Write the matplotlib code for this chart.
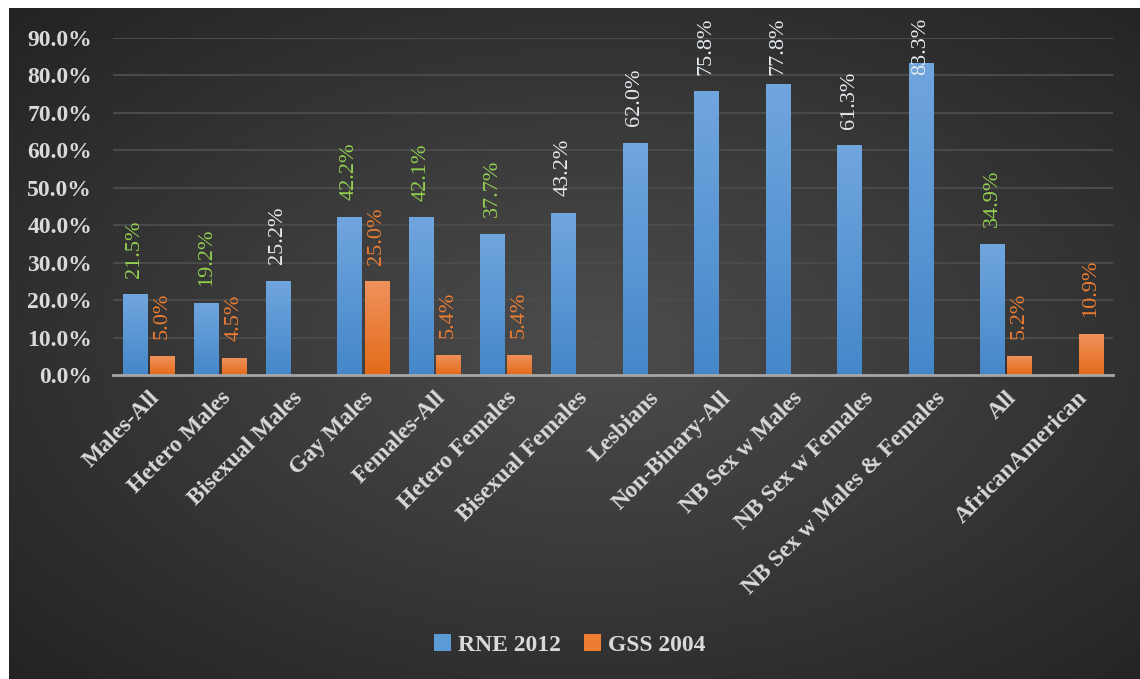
import numpy as np
import matplotlib
matplotlib.use("Agg")
import matplotlib.pyplot as plt
from matplotlib.patches import Patch

# values
categories = ["Males-All", "Hetero Males", "Bisexual Males", "Gay Males", "Females-All",
              "Hetero Females", "Bisexual Females", "Lesbians", "Non-Binary-All",
              "NB Sex w Males", "NB Sex w Females", "NB Sex w Males & Females", "All",
              "AfricanAmerican"]
rne_2012 = [21.5, 19.2, 25.2, 42.2, 42.1, 37.7, 43.2, 62.0, 75.8, 77.8, 61.3, 83.3, 34.9, np.nan]
gss_2004 = [5.0, 4.5, np.nan, 25.0, 5.4, 5.4, np.nan, np.nan, np.nan, np.nan, np.nan, np.nan, 5.2, 10.9]
rne_label_green = [True, True, False, True, True, True, False, False, False, False, False, False, True, False]

plt.rcParams["font.family"] = ["Liberation Serif", "DejaVu Serif"]

W, H = 1140, 679
fig = plt.figure(figsize=(W / 100, H / 100), dpi=100)
fig.patch.set_facecolor("white")

# dark radial background
bg = fig.add_axes([9 / W, 0, 1 - 9 / W, 1 - 8 / H])
bg.set_axis_off()
yy, xx = np.mgrid[0:1:300j, 0:1:500j]
r = np.sqrt(((xx - 0.52) / 0.75) ** 2 + ((yy - 0.5) / 0.75) ** 2)
shade = 0.30 - 0.17 * np.clip(r, 0, 1)
bg.imshow(np.dstack([shade] * 3), aspect="auto", extent=[0, 1, 0, 1])

ax = fig.add_axes([113 / W, (H - 375) / H, 1000 / W, 337 / H])
ax.patch.set_alpha(0)
x = np.arange(len(categories))
bw, off = 0.34, 0.192

blue_top, blue_bot = np.array([0.44, 0.65, 0.87]), np.array([0.27, 0.53, 0.79])
orng_top, orng_bot = np.array([0.94, 0.57, 0.36]), np.array([0.89, 0.42, 0.10])


def gradient_bars(bars, top, bot):
    g = np.linspace(0, 1, 64)[:, None]
    img = (top[None, None, :] * (1 - g[..., None]) + bot[None, None, :] * g[..., None])
    for b in bars:
        if not np.isfinite(b.get_height()) or b.get_height() == 0:
            continue
        b.set_facecolor("none")
        x0, y0 = b.get_x(), b.get_y()
        im = ax.imshow(img, aspect="auto", extent=[x0, x0 + b.get_width(), y0, y0 + b.get_height()],
                       zorder=2, origin="upper")
        im.set_clip_path(b)


b1 = ax.bar(x - off, rne_2012, bw, linewidth=0, zorder=2)
b2 = ax.bar(x + off, gss_2004, bw, linewidth=0, zorder=2)
gradient_bars(b1, blue_top, blue_bot)
gradient_bars(b2, orng_top, orng_bot)

ax.set_xlim(-0.5, len(categories) - 0.5)
ax.set_ylim(0, 90)
ax.set_yticks(np.arange(0, 91, 10))
ax.set_yticklabels([f"{v:.1f}%" for v in np.arange(0, 91, 10)])
ax.yaxis.grid(True, color="#4a4a4a", linewidth=1.5, zorder=0)
ax.set_axisbelow(True)
for s in ["top", "right", "left"]:
    ax.spines[s].set_visible(False)
ax.spines["bottom"].set_color("#a6a6a6")
ax.spines["bottom"].set_linewidth(2)
ax.tick_params(length=0, colors="#d9d9d9", labelsize=17)
ax.tick_params(axis="y", pad=15)
for t in ax.get_yticklabels():
    t.set_fontweight("bold")
ax.set_xticks(x)
ax.set_xticklabels(categories, rotation=45, ha="right", va="top", rotation_mode="anchor",
                   fontweight="bold", fontsize=17)
ax.tick_params(axis="x", pad=9)

# data labels, kept inside the chart area like Excel does
cap = 80.0
for i, v in enumerate(rne_2012):
    if np.isfinite(v):
        col = "#92d050" if rne_label_green[i] else "#e6ebf0"
        ax.text(x[i] - off, min(v + 4.5, cap), f"{v:.1f}%", rotation=90, ha="center", va="bottom",
                color=col, fontsize=16, zorder=4)
for i, v in enumerate(gss_2004):
    if np.isfinite(v):
        ax.text(x[i] + off, min(v + 4.5, cap), f"{v:.1f}%", rotation=90, ha="center", va="bottom",
                color="#ed7d31", fontsize=16, zorder=4)

handles = [Patch(facecolor="#5b9bd5", label="RNE 2012"), Patch(facecolor="#ed7d31", label="GSS 2004")]
leg = fig.legend(handles=handles, loc="center", bbox_to_anchor=(0.5, 1 - 645 / H), ncol=2,
                 frameon=False, handlelength=0.7, handleheight=0.7, handletextpad=0.3,
                 columnspacing=1.0, prop={"weight": "bold", "size": 17})
for t in leg.get_texts():
    t.set_color("#d9d9d9")

fig.savefig("out.png", dpi=100)
